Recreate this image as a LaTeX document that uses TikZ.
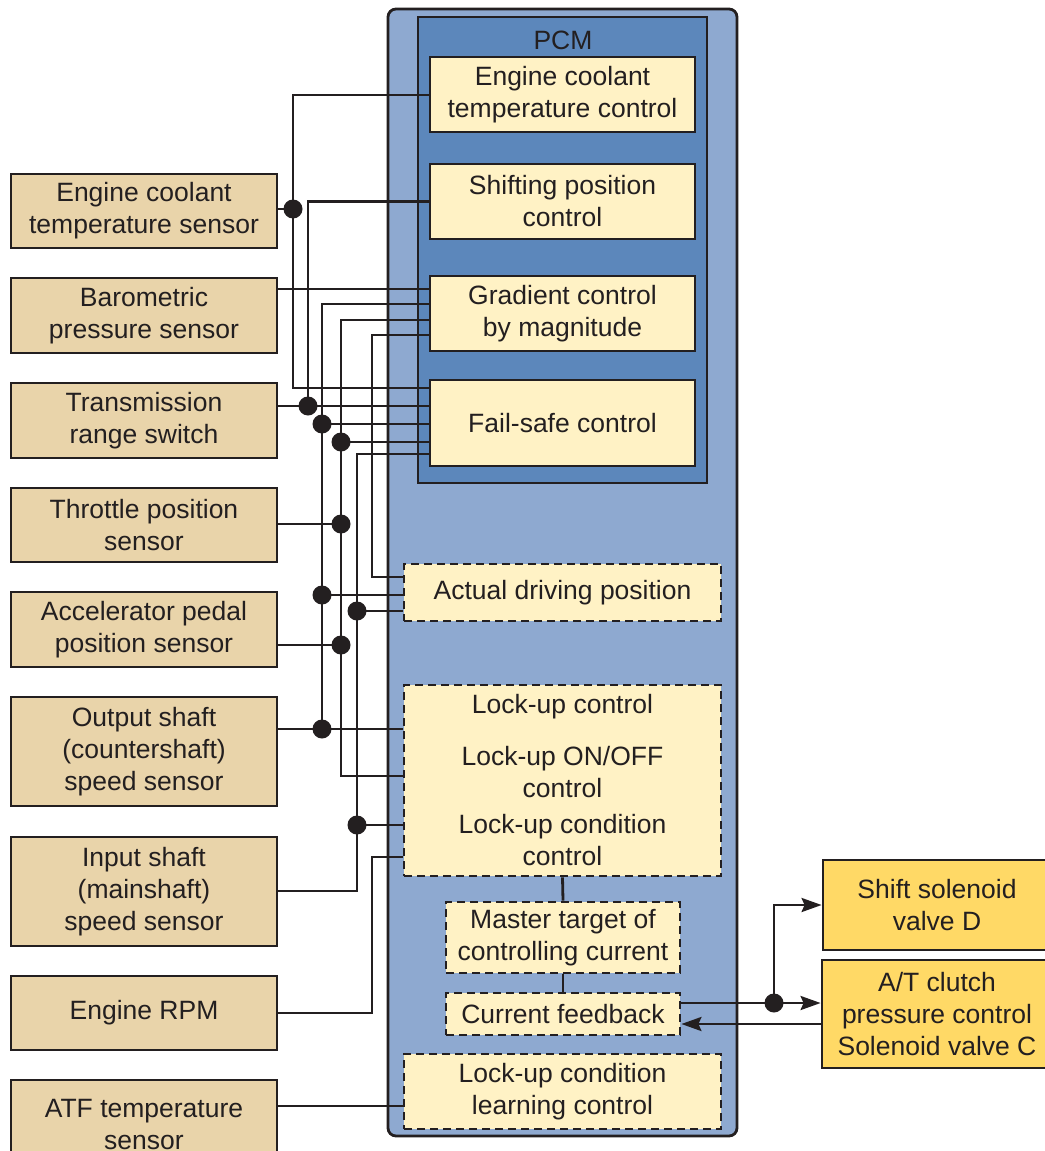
\documentclass[tikz,border=0pt]{standalone}
\usepackage{fontspec}
\setmainfont{Liberation Sans}
\usetikzlibrary{arrows.meta,calc}
\definecolor{cInk}{HTML}{231F20}
\definecolor{cTan}{HTML}{E9D4AA}
\definecolor{cCream}{HTML}{FFF2C5}
\definecolor{cPcm}{HTML}{8EA9D0}
\definecolor{cCore}{HTML}{5C87BB}
\definecolor{cGold}{HTML}{FFD966}
\tikzset{
  every node/.style={font=\fontsize{26.5}{32}\selectfont, text=cInk},
  sens/.style={draw=cInk, line width=2.8pt, fill=cTan, align=center, inner sep=0pt, minimum width=266pt},
  ctrl/.style={draw=cInk, line width=2.8pt, fill=cCream, align=center, inner sep=0pt, minimum width=265pt, minimum height=75pt},
  dctrl/.style={draw=cInk, line width=2.8pt, fill=cCream, dash pattern=on 8pt off 5pt, align=center, inner sep=0pt},
  valve/.style={draw=cInk, line width=2.8pt, fill=cGold, align=center, inner sep=0pt, minimum width=228pt},
  wire/.style={draw=cInk, line width=2.8pt},
  arr/.style={wire, -{Stealth[length=20pt,width=14pt,inset=3pt]}},
}

\begin{document}
\begin{tikzpicture}[x=1pt,y=-1pt]
\useasboundingbox (0,0) rectangle (1044,1151);
% PCM housing
\node[draw=cInk, line width=2.8pt, fill=cPcm, rounded corners=8pt, minimum width=349pt, minimum height=1127pt, inner sep=0pt] (PCM) at (562.5,572.5) {};
\node[draw=cInk, line width=2.8pt, fill=cCore, minimum width=289pt, minimum height=466pt, inner sep=0pt] (core) at (562.5,250) {};
\node (pcmlbl) at (563,40) {PCM};
% control blocks
\node[ctrl] (cECT) at (562.5,94.5) {Engine coolant\\temperature control};
\node[ctrl] (cShift) at (562.5,201.5) {Shifting position\\control};
\node[ctrl] (cGrad) at (562.5,313.5) {Gradient control\\by magnitude};
\node[ctrl, minimum height=86pt] (cFail) at (562.5,423) {Fail-safe control};
\node[dctrl, minimum width=317pt, minimum height=57pt] (dDrive) at (562.5,592.5) {Actual driving position};
\node[dctrl, minimum width=317pt, minimum height=191pt] (dLock) at (562.5,780.5) {Lock-up control\\[20pt]Lock-up ON/OFF\\control\\[4pt]Lock-up condition\\control};
\node[dctrl, minimum width=234pt, minimum height=71pt] (dMaster) at (563,937.5) {Master target of\\controlling current};
\node[dctrl, minimum width=234pt, minimum height=42pt] (dFeed) at (563,1014) {Current feedback};
\node[dctrl, minimum width=317pt, minimum height=75pt] (dLearn) at (562.5,1091.5) {Lock-up condition\\learning control};
% sensors
\node[sens, minimum height=74pt] (sECT) at (144,211) {Engine coolant\\temperature sensor};
\node[sens, minimum height=75pt] (sBaro) at (144,315.5) {Barometric\\pressure sensor};
\node[sens, minimum height=75pt] (sTRS) at (144,420.5) {Transmission\\range switch};
\node[sens, minimum height=74pt] (sTPS) at (144,525) {Throttle position\\sensor};
\node[sens, minimum height=75pt] (sAPP) at (144,629.5) {Accelerator pedal\\position sensor};
\node[sens, minimum height=109pt] (sOSS) at (144,751.5) {Output shaft\\(countershaft)\\speed sensor};
\node[sens, minimum height=109pt] (sISS) at (144,891.5) {Input shaft\\(mainshaft)\\speed sensor};
\node[sens, minimum height=74pt] (sRPM) at (144,1013) {Engine RPM};
\node[sens, minimum height=89pt] (sATF) at (144,1124.5) {ATF temperature\\sensor};
% solenoids
\node[valve, minimum height=90pt] (vD) at (937,905) {Shift solenoid\\valve D};
\node[valve, minimum height=108pt, minimum width=230pt] (vC) at (937,1014) {A/T clutch\\pressure control\\Solenoid valve C};
% junctions
\coordinate (jECT) at (293,209);
\coordinate (jTRS) at (308,406);
\coordinate (jOSS) at (322,729);
\coordinate (jOSSa) at (322,424);
\coordinate (jOSSb) at (322,595);
\coordinate (jTPS) at (341,524);
\coordinate (jAPP) at (341,645);
\coordinate (jTPSa) at (341,442);
\coordinate (jISSa) at (357,611);
\coordinate (jISSb) at (357,825);
\coordinate (jOut) at (774,1003);
% wiring
\draw[wire] (sECT.east |- jECT) -- (jECT);
\draw[wire] (cECT.west |- 0,95) -| (293,388) -- (cFail.west |- 0,388);
\draw[wire] (sBaro.east |- 0,289) -- (cGrad.west |- 0,289);
\draw[wire] (sTRS.east |- jTRS) -- (cFail.west |- jTRS);
\draw[wire] (jTRS) |- (cShift.west);
\draw[wire] (sOSS.east |- jOSS) -- (dLock.west |- jOSS);
\draw[wire] (jOSS) |- (cGrad.west |- 0,304);
\draw[wire] (jOSSa) -- (cFail.west |- jOSSa);
\draw[wire] (jOSSb) -- (dDrive.west |- jOSSb);
\draw[wire] (sTPS.east |- jTPS) -- (jTPS);
\draw[wire] (sAPP.east |- jAPP) -- (jAPP);
\draw[wire] (cGrad.west |- 0,320) -| (341,776) -- (dLock.west |- 0,776);
\draw[wire] (jTPSa) -- (cFail.west |- jTPSa);
\draw[wire] (sISS.east |- 0,891) -| (357,454) -- (cFail.west |- 0,454);
\draw[wire] (jISSa) -- (dDrive.west |- jISSa);
\draw[wire] (jISSb) -- (dLock.west |- jISSb);
\draw[wire] (cGrad.west |- 0,335) -| (372,577) -- (dDrive.west |- 0,577);
\draw[wire] (sRPM.east) -| (372,857) -- (dLock.west |- 0,857);
\draw[wire] (sATF.east |- 0,1106) -- (dLearn.west |- 0,1106);
\draw[wire] (dLock.south) -- (dMaster.north);
\draw[wire] (dMaster.south) -- (dFeed.north);
% outputs
\draw[arr] (dFeed.east |- jOut) -- (vC.west |- jOut);
\draw[arr] (jOut) |- (vD.west);
\draw[arr] (vC.west |- 0,1024) -- (dFeed.east |- 0,1024);
\foreach \j in {jECT,jTRS,jOSS,jOSSa,jOSSb,jTPS,jAPP,jTPSa,jISSa,jISSb,jOut}
  \fill[cInk] (\j) circle[radius=9.5pt];
\end{tikzpicture}
\end{document}
